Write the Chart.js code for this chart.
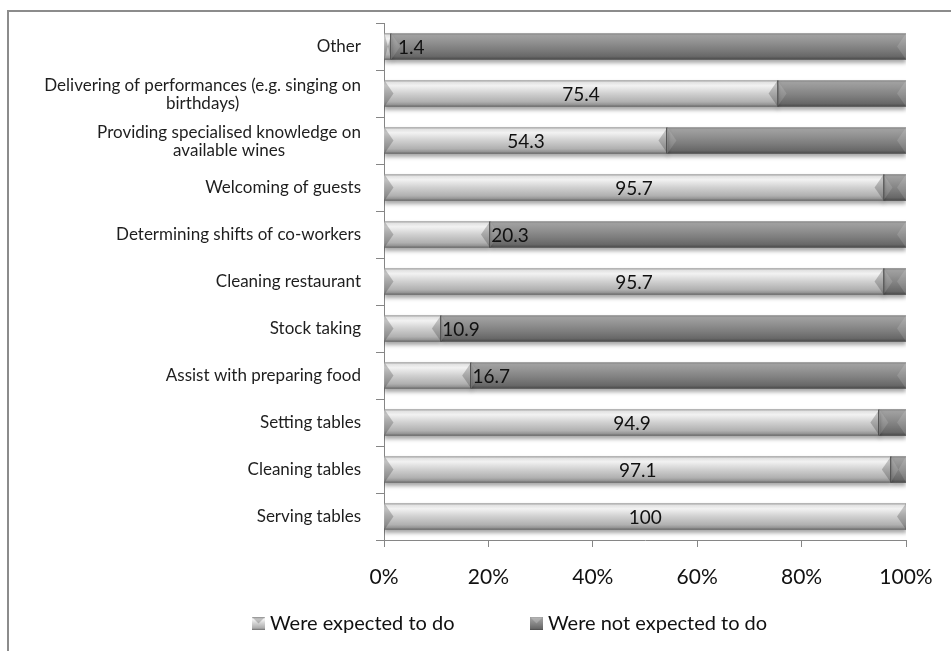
<!DOCTYPE html>
<html>
<head>
<meta charset="utf-8">
<script src="https://cdn.jsdelivr.net/npm/chart.js@4.4.1/dist/chart.umd.min.js"></script>
<style>
  html, body { margin: 0; background: #fff; }
  #wrap { width: 951px; height: 651px; }
</style>
</head>
<body>
<div id="wrap"><canvas id="chart" width="951" height="651"></canvas></div>
<script>
// tasks asked of waiting staff, share in percent (top row first)
const tasks = [
  'Other',
  ['Delivering of performances (e.g. singing on', 'birthdays)'],
  ['Providing specialised knowledge on', 'available wines'],
  'Welcoming of guests',
  'Determining shifts of co-workers',
  'Cleaning restaurant',
  'Stock taking',
  'Assist with preparing food',
  'Setting tables',
  'Cleaning tables',
  'Serving tables'
];
const expected    = [1.4, 75.4, 54.3, 95.7, 20.3, 95.7, 10.9, 16.7, 94.9, 97.1, 100];
const notExpected = [98.6, 24.6, 45.7, 4.3, 79.7, 4.3, 89.1, 83.3, 5.1, 2.9, 0];
const seriesNames = ['Were expected to do', 'Were not expected to do'];
const xTicks = [0, 20, 40, 60, 80, 100];

const FONT = 'Lato, "Open Sans", sans-serif';
const AXIS = '#868686';

// vertical gradient for a bar, lined up with its category band
function barFill(stops, flat) {
  return (ctx) => {
    const y = ctx.chart.scales.y;
    if (ctx.type !== 'data' || !y) return flat;
    const cy = y.getPixelForValue(ctx.dataIndex);
    if (!Number.isFinite(cy)) return flat;
    const g = ctx.chart.ctx.createLinearGradient(0, cy - 13, 0, cy + 13);
    stops.forEach(s => g.addColorStop(s[0], s[1]));
    return g;
  };
}
const lightStops = [[0, '#a0a0a0'], [0.07, '#e2e2e2'], [0.2, '#f2f2f2'], [0.5, '#d0d0d0'], [0.82, '#b0b0b0'], [0.93, '#949494'], [1, '#666666']];
const darkStops  = [[0, '#888888'], [0.08, '#a0a0a0'], [0.25, '#969696'], [0.6, '#7e7e7e'], [0.88, '#686868'], [1, '#4a4a4a']];

function drawFrame(chart) {
  const c = chart.ctx;
  c.save();
  c.strokeStyle = '#8c8c8c';
  c.lineWidth = 2;
  c.strokeRect(8, 11, 1200, 1200);
  c.restore();
}

const bevelBars = {
  id: 'bevelBars',
  beforeDraw: drawFrame,
  beforeDatasetsDraw(chart) {
    const c = chart.ctx;
    c.save();
    c.shadowColor = 'rgba(0,0,0,0.35)';
    c.shadowBlur = 4;
    c.shadowOffsetY = 3;
  },
  afterDatasetsDraw(chart) {
    const c = chart.ctx;
    c.restore();
    chart.data.datasets.forEach((ds, di) => {
      const meta = chart.getDatasetMeta(di);
      meta.data.forEach((bar, i) => {
        if (!ds.data[i]) return;
        const p = bar.getProps(['x', 'y', 'base', 'height'], true);
        const x0 = Math.min(p.x, p.base), x1 = Math.max(p.x, p.base);
        const top = p.y - p.height / 2, bot = p.y + p.height / 2;
        const w = Math.min(9, (x1 - x0) / 2);
        c.save();
        // chamfered ends
        c.fillStyle = di ? 'rgba(255,255,255,0.13)' : 'rgba(0,0,0,0.2)';
        c.beginPath();
        c.moveTo(x0, top); c.lineTo(x0 + w, p.y); c.lineTo(x0, bot);
        c.closePath(); c.fill();
        c.fillStyle = di ? 'rgba(255,255,255,0.13)' : 'rgba(0,0,0,0.2)';
        c.beginPath();
        c.moveTo(x1, top); c.lineTo(x1 - w, p.y); c.lineTo(x1, bot);
        c.closePath(); c.fill();
        // seam between the two segments
        if (di === 0 && notExpected[i] > 0) {
          c.fillStyle = 'rgba(70,70,70,0.85)';
          c.fillRect(Math.round(x1) - 1, top, 1.5, bot - top);
        }
        c.restore();
      });
    });

    // value labels for the first series
    const meta = chart.getDatasetMeta(0);
    c.save();
    c.font = '19px ' + FONT;
    c.fillStyle = '#111';
    c.textAlign = 'center';
    c.textBaseline = 'middle';
    meta.data.forEach((bar, i) => {
      const v = expected[i];
      const p = bar.getProps(['x', 'y', 'base'], true);
      const x = v >= 30 ? (p.x + p.base) / 2 : p.x + 20;
      c.fillText(String(v), x, p.y + 1);
    });
    c.restore();
  },
  afterDraw(chart) {
    const c = chart.ctx;
    const y = chart.scales.y;
    // category labels: block right-aligned, wrapped lines centred
    c.save();
    c.font = '17px ' + FONT;
    c.fillStyle = '#1e1e1e';
    c.textAlign = 'center';
    c.textBaseline = 'middle';
    const right = chart.chartArea.left - 23;
    tasks.forEach((t, i) => {
      const lines = Array.isArray(t) ? t : [t];
      const w = Math.max(...lines.map(l => c.measureText(l).width));
      const cy = y.getPixelForValue(i);
      const lh = 18;
      lines.forEach((l, k) => {
        c.fillText(l, right - w / 2, cy + (k - (lines.length - 1) / 2) * lh + (lines.length - 1));
      });
    });
    c.restore();

    // legend
    c.save();
    c.font = '20px ' + FONT;
    c.textBaseline = 'middle';
    const ly = 623;
    const boxes = [252, 530];
    seriesNames.forEach((name, k) => {
      const bx = boxes[k];
      const g = c.createLinearGradient(0, ly - 6, 0, ly + 7);
      (k ? darkStops : lightStops).forEach(s => g.addColorStop(s[0], s[1]));
      c.fillStyle = g;
      c.fillRect(bx, ly - 6, 13, 13);
      c.fillStyle = k ? 'rgba(255,255,255,0.2)' : 'rgba(0,0,0,0.2)';
      c.beginPath();
      c.moveTo(bx, ly - 6); c.lineTo(bx + 6.5, ly + 0.5); c.lineTo(bx + 13, ly - 6); c.closePath(); c.fill();
      c.fillStyle = '#111';
      c.textAlign = 'left';
      c.fillText(name, bx + 18, ly + 1);
    });
    c.restore();
  }
};

new Chart(document.getElementById('chart'), {
  type: 'bar',
  data: {
    labels: tasks,
    datasets: [
      { label: seriesNames[0], data: expected, backgroundColor: barFill(lightStops, '#d0d0d0') },
      { label: seriesNames[1], data: notExpected, backgroundColor: barFill(darkStops, '#7c7c7c') }
    ]
  },
  options: {
    indexAxis: 'y',
    responsive: false,
    animation: false,
    barThickness: 26,
    layout: { padding: { top: 23, right: 45, bottom: 0, left: 0 } },
    plugins: { legend: { display: false }, tooltip: { enabled: false } },
    scales: {
      x: {
        stacked: true, min: 0, max: 100,
        afterBuildTicks: (s) => { s.ticks = xTicks.map(v => ({ value: v })); },
        afterFit: (s) => { s.height = 111; },
        grid: { drawOnChartArea: false, tickLength: 7, color: AXIS },
        border: { color: AXIS, width: 1 },
        ticks: { color: '#111', font: { family: FONT, size: 21 }, padding: 18, callback: v => v + '%' }
      },
      y: {
        stacked: true,
        afterFit: (s) => { s.width = 384; },
        grid: { drawOnChartArea: false, tickLength: 8, color: AXIS, offset: true },
        border: { color: AXIS, width: 1 },
        ticks: { display: false }
      }
    }
  },
  plugins: [bevelBars]
});
</script>
</body>
</html>
